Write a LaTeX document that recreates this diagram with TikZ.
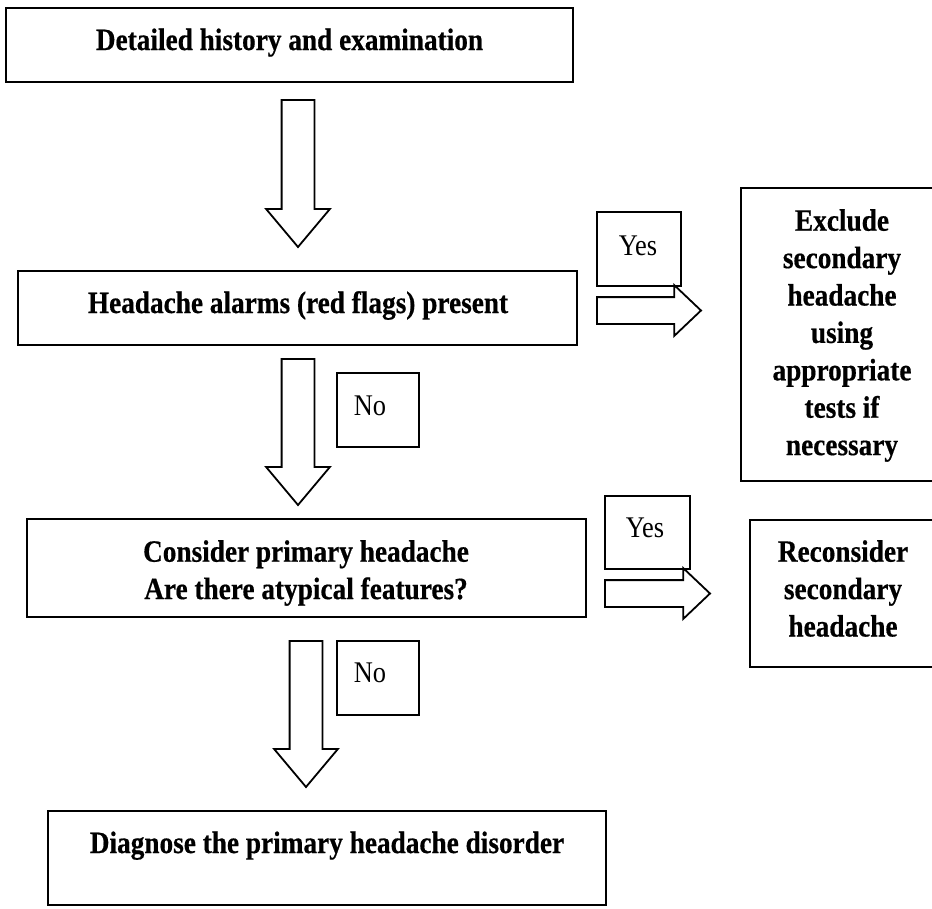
\documentclass[tikz,border=0pt]{standalone}
\usepackage{fontspec}
\setmainfont{Liberation Serif}[FakeStretch=0.88, BoldFeatures={FakeBold=0.5}]
\usetikzlibrary{shapes.arrows}

% Fonts for the step texts and for the yes/no tags
\newcommand\stepfont{\fontsize{31}{37.4}\selectfont\bfseries}
\newcommand\tagfont{\fontsize{30}{36}\selectfont}

\begin{document}
\begin{tikzpicture}[x=1pt,y=-1pt,
  frame/.style={draw, line width=2pt, inner sep=0pt, outer sep=0pt, anchor=north west},
  steptext/.style={font=\stepfont, inner sep=0pt, align=center},
  tagtext/.style={font=\tagfont, inner sep=0pt, anchor=base},
  downarrow/.style={single arrow, draw, fill=white, line width=1.8pt,
    inner xsep=0pt, inner ysep=15.5pt, outer sep=0pt,
    single arrow head extend=15.5pt, single arrow tip angle=80,
    rotate=-90, anchor=tail, minimum height=#1},
  rightarrow/.style={single arrow, draw, fill=white, line width=1.8pt,
    inner xsep=0pt, inner ysep=12.5pt, outer sep=0pt,
    single arrow head extend=12pt, single arrow tip angle=87,
    anchor=tail, minimum height=#1}]

\useasboundingbox (0,0) rectangle (932,908);

% Block arrows
\node[downarrow=147pt] (a1) at (298,100) {};
\node[downarrow=146pt] (a2) at (298,359) {};
\node[downarrow=146pt] (a3) at (306,641) {};
\node[rightarrow=104pt] (r1) at (597,310.5) {};
\node[rightarrow=105pt] (r2) at (605,593.5) {};

% Main steps
\node[frame, minimum width=567pt, minimum height=74pt] (b1) at (6,8) {};
\node[frame, minimum width=559pt, minimum height=74pt] (b2) at (18,271) {};
\node[frame, minimum width=559pt, minimum height=98pt] (b3) at (27,519) {};
\node[frame, minimum width=558pt, minimum height=94pt] (b4) at (48,811) {};

% Side outcomes (their right sides run past the page edge)
\node[frame, minimum width=202pt, minimum height=293pt] (ex) at (741,188) {};
\node[frame, minimum width=186pt, minimum height=147pt] (re) at (750,520) {};

% Yes / No tags
\node[frame, minimum width=84pt, minimum height=74pt] (y1) at (597,212) {};
\node[frame, minimum width=85pt, minimum height=73pt] (y2) at (605,496) {};
\node[frame, minimum width=82pt, minimum height=74pt] (n1) at (337,373) {};
\node[frame, minimum width=82pt, minimum height=74pt] (n2) at (337,641) {};

% Texts
\node[steptext, anchor=base] (t1) at (289.5,50) {Detailed history and examination};
\node[steptext, anchor=base] (t2) at (298,313) {Headache alarms (red flags) present};
\node[steptext, anchor=north] (t3) at (306,540) {Consider primary headache\\Are there atypical features?};
\node[steptext, anchor=base] (t4) at (327,853) {Diagnose the primary headache disorder};
\node[steptext, anchor=north] (tex) at (842,209) {Exclude\\secondary\\headache\\using\\appropriate\\tests if\\necessary};
\node[steptext, anchor=north] (tre) at (843,540) {Reconsider\\secondary\\headache};

\node[tagtext] (ty1) at (638,255) {Yes};
\node[tagtext] (ty2) at (645,537) {Yes};
\node[tagtext] (tn1) at (370,415) {No};
\node[tagtext] (tn2) at (370,682) {No};

\end{tikzpicture}
\end{document}
